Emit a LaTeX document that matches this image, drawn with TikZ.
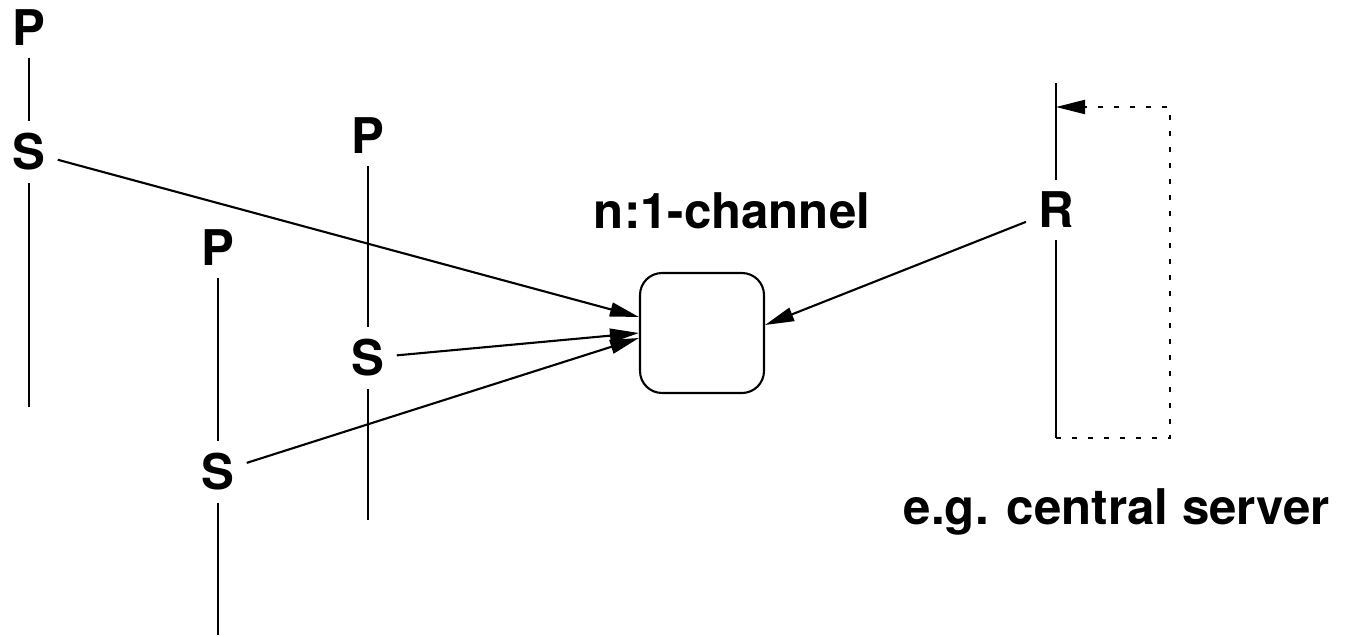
\documentclass[tikz,border=0pt]{standalone}
\usepackage{fontspec}
\setmainfont{TeX Gyre Heros}
\usepackage{tikz}
\usetikzlibrary{
    arrows.meta
}
\tikzset{
  lbl/.style     = {font=\bfseries\fontsize{28}{33}\selectfont, inner sep=0.24cm},
  chanbox/.style = {draw, rounded corners=0.44cm, line width=1.2pt,
                    minimum width=2.48cm, minimum height=2.4cm},
  life/.style    = {line width=1.2pt},
  arr/.style     = {-{Triangle[length=0.58cm, width=0.28cm]}, line width=1.2pt},
  arrd/.style    = {arr, dash pattern=on 0.1cm off 0.22cm}
}

\begin{document}
\begin{tikzpicture}[x=0.02cm, y=-0.02cm]
\useasboundingbox (0,0) rectangle (1346,636);
% processes
\node[lbl] (p1) at (29,28) {P};
\node[lbl] (s1) at (29,152) {S};
\coordinate (e1) at (29,407);
\node[lbl] (p2) at (368,136) {P};
\node[lbl] (s2) at (368,358) {S};
\coordinate (e2) at (368,520);
\node[lbl] (p3) at (218,248) {P};
\node[lbl] (s3) at (218,472) {S};
\coordinate (e3) at (218,635);
\draw[life] (p1) -- (s1) -- (e1);
\draw[life] (p2) -- (s2) -- (e2);
\draw[life] (p3) -- (s3) -- (e3);
% channel
\node[chanbox] (chan) at (702,333) {};
\node[lbl, anchor=base] (chanlbl) at (732,228) {n:1-channel};
% server
\coordinate (rtop) at (1056,83);
\node[lbl] (r) at (1056,210) {R};
\coordinate (rbot) at (1056,438);
\coordinate (rin) at (1056,107);
\draw[life] (rtop) -- (r) -- (rbot);
\draw[arrd] (rbot) -- ++(114,0) |- (rin);
\node[lbl, anchor=base] (srvlbl) at (1117,524) {e.g. central server};
% messages
\draw[arr] (s1) -- ([yshift=0.32cm]chan.west);
\draw[arr] (s2) -- (chan.west);
\draw[arr] (s3) -- ([yshift=-0.1cm]chan.west);
\draw[arr] (r) -- ([yshift=0.16cm]chan.east);
\end{tikzpicture}
\end{document}
